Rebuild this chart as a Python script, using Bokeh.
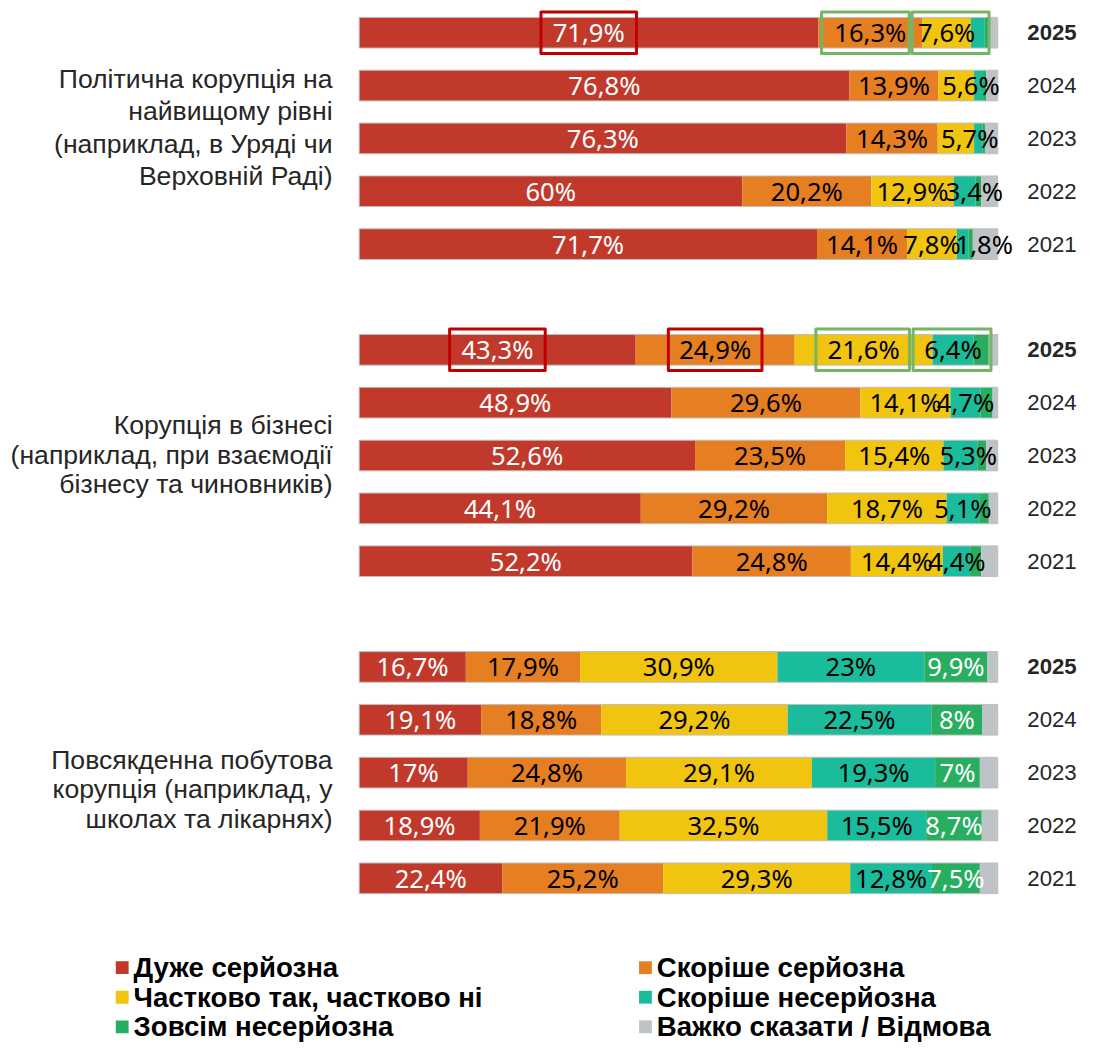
from bokeh.plotting import figure
from bokeh.models import Range1d, ColumnDataSource
from bokeh.embed import file_html
from bokeh.resources import INLINE
from bokeh.core.properties import value

# ---------------- data ----------------
group_lines = [
    ["Політична корупція на", "найвищому рівні", "(наприклад, в Уряді чи", "Верховній Раді)"],
    ["Корупція в бізнесі", "(наприклад, при взаємодії", "бізнесу та чиновників)"],
    ["Повсякденна побутова", "корупція (наприклад, у", "школах та лікарнях)"],
]
years = ["2025", "2024", "2023", "2022", "2021"]

series_names = ["Дуже серйозна", "Скоріше серйозна", "Частково так, частково ні",
                "Скоріше несерйозна", "Зовсім несерйозна", "Важко сказати / Відмова"]

# order: group 1 (2025..2021), group 2 (2025..2021), group 3 (2025..2021)
very_serious    = [71.9, 76.8, 76.3, 60.0, 71.7,  43.3, 48.9, 52.6, 44.1, 52.2,  16.7, 19.1, 17.0, 18.9, 22.4]
rather_serious  = [16.3, 13.9, 14.3, 20.2, 14.1,  24.9, 29.6, 23.5, 29.2, 24.8,  17.9, 18.8, 24.8, 21.9, 25.2]
partly          = [7.6, 5.6, 5.7, 12.9, 7.8,      21.6, 14.1, 15.4, 18.7, 14.4,  30.9, 29.2, 29.1, 32.5, 29.3]
rather_not      = [2.1, 1.4, 1.3, 3.4, 1.8,       6.4, 4.7, 5.3, 5.1, 4.4,       23.0, 22.5, 19.3, 15.5, 12.8]
not_at_all      = [0.7, 0.5, 0.4, 0.9, 0.7,       2.4, 1.9, 1.4, 1.5, 1.6,       9.9, 8.0, 7.0, 8.7, 7.5]
hard_to_say     = [1.4, 1.8, 2.0, 2.6, 3.9,       1.4, 0.8, 1.8, 1.4, 2.6,       1.6, 2.4, 2.8, 2.5, 2.8]

series_values = [very_serious, rather_serious, partly, rather_not, not_at_all, hard_to_say]

# which segments carry a value label
label_shown = [
    [True] * 15,
    [True] * 15,
    [True] * 15,
    [False, False, False, True, True] + [True] * 5 + [True] * 5,
    [False] * 10 + [True] * 5,
    [False] * 15,
]

# ---------------- style / layout ----------------
colors = ["#C0392B", "#E67E22", "#F1C40F", "#1ABC9C", "#27AE60", "#BDC3C7"]
label_colors = ["white", "black", "black", "black", "white", "black"]

W, H = 1080, 1045            # drawn size
REF_W, REF_H = 1096, 1061    # design size
S = W / REF_W                # uniform scale of the design

BAR_LEFT = 364.0             # design px
PX_PER_PCT = 6.48            # design px per percent
ROW0 = 32.7                  # design px of first bar centre
PX_PER_ROW = 53.66           # design px between bars
BAR_H = 0.58                 # rows

# manual label nudges in design px: (bar index, series index) -> dx
label_nudge = {(1, 2): 15, (2, 2): 14, (3, 3): 10, (4, 3): 22, (7, 3): 8}
# highlight boxes: (bar index, series index, color, width px, dx px)
highlights = [
    (0, 0, "#C00000", 97, 0), (5, 0, "#C00000", 97, 0), (5, 1, "#C00000", 95, 0),
    (0, 1, "#74B566", 89, -5), (0, 2, "#74B566", 78, 4),
    (5, 2, "#74B566", 95, -1), (5, 3, "#74B566", 79, -1),
]


def px_x(px):
    return (px - BAR_LEFT) / PX_PER_PCT


def px_y(px):
    return (px - ROW0) / PX_PER_ROW


def fs(px):
    return "%.1fpx" % (px * S)


def fmt(v):
    return ("%g" % v).replace(".", ",") + "%"


x_start = px_x(0)
x_end = px_x(REF_W)
y_top = px_y(0)
y_bottom = px_y(REF_H)

p = figure(width=W, height=H, x_range=Range1d(x_start, x_end), y_range=Range1d(y_bottom, y_top),
           output_backend="svg", toolbar_location=None, min_border=0)
p.xaxis.visible = False
p.yaxis.visible = False
p.xgrid.visible = False
p.ygrid.visible = False
p.outline_line_color = None
p.background_fill_color = "white"
p.border_fill_color = "white"

n = len(very_serious)
rows = [(i // 5) * 6 + (i % 5) for i in range(n)]

lefts = [0.0] * n
seg_centers = []
for s, vals in enumerate(series_values):
    rights = [lefts[i] + vals[i] for i in range(n)]
    p.hbar(y=rows, left=lefts, right=rights, height=BAR_H, fill_color=colors[s], line_color=None)
    seg_centers.append([(lefts[i] + rights[i]) / 2 for i in range(n)])
    lefts = rights

# thin outline around each whole bar
p.hbar(y=rows, left=[0] * n, right=lefts, height=BAR_H, fill_color=None,
       line_color="#BFBFBF", line_width=1)

# value labels
lx, ly, lt, lc, lo = [], [], [], [], []
for s, vals in enumerate(series_values):
    for i in range(n):
        if label_shown[s][i]:
            lx.append(seg_centers[s][i])
            ly.append(rows[i])
            lt.append(fmt(vals[i]))
            lc.append(label_colors[s])
            lo.append(label_nudge.get((i, s), 0) * S)
src = ColumnDataSource(dict(x=lx, y=ly, text=lt, color=lc, xo=lo))
p.text(x="x", y="y", text="text", source=src, text_color="color", x_offset="xo",
       text_align="center", text_baseline="middle",
       text_font=value("Noto Sans"), text_font_size=fs(26))

# highlight boxes
for (i, s, col, wpx, dx) in highlights:
    p.rect(x=[seg_centers[s][i] + dx / PX_PER_PCT], y=[rows[i]], width=wpx * S, height=42 * S,
           width_units="screen", height_units="screen", fill_color=None,
           line_color=col, line_width=3, line_join="round")

# year labels
for i in range(n):
    yr = years[i % 5]
    p.text(x=[px_x(1042)], y=[rows[i]], text=[yr], text_align="left", text_baseline="middle",
           text_font=value("Liberation Sans"), text_font_size=fs(22.5),
           text_font_style="bold" if yr == "2025" else "normal", text_color="#262626")

# group labels
group_dy_px = [-11, -1, 17]
group_line_px = [33, 30, 30]
for g, lines in enumerate(group_lines):
    center_px = ROW0 + (g * 6 + 2) * PX_PER_ROW + group_dy_px[g]
    k = len(lines)
    for j, line in enumerate(lines):
        ypx = center_px + (j - (k - 1) / 2) * group_line_px[g]
        p.text(x=[px_x(337)], y=[px_y(ypx)], text=[line], text_align="right", text_baseline="middle",
               text_font=value("Liberation Sans"), text_font_size=fs(27), text_color="#262626")

# legend
leg_rows_px = [982, 1012, 1042]
leg_cols_px = [117, 648]
for k, name in enumerate(series_names):
    r, c = k // 2, k % 2
    ypx = leg_rows_px[r]
    p.rect(x=[px_x(leg_cols_px[c] + 6.5)], y=[px_y(ypx)], width=13 * S, height=13 * S,
           width_units="screen", height_units="screen", fill_color=colors[k], line_color=None)
    p.text(x=[px_x(leg_cols_px[c] + 18)], y=[px_y(ypx)], text=[name], text_align="left",
           text_baseline="middle", text_font=value("Liberation Sans"), text_font_size=fs(28),
           text_font_style="bold", text_color="black")

open("out.html", "w").write(file_html(p, INLINE))
